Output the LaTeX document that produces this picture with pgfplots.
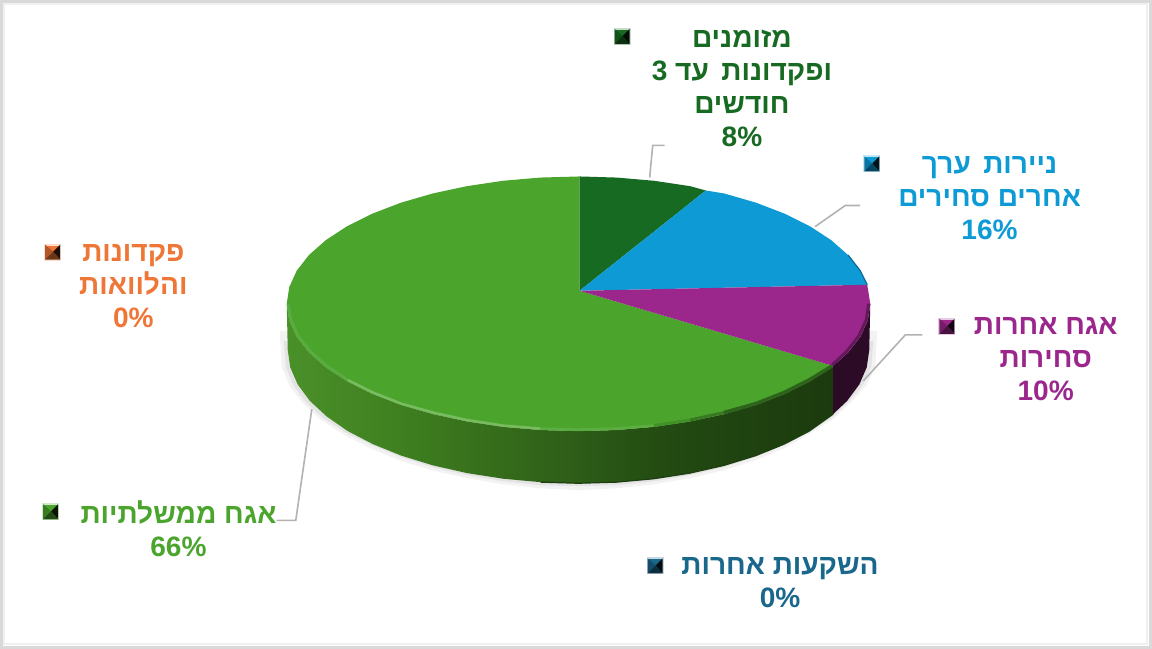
\documentclass[border=0pt]{standalone}
\usepackage{fontspec}
\usepackage{pgfplots}
\pgfplotsset{compat=1.18}
\setmainfont{Liberation Sans}
\newfontfamily\hebfont[Script=Hebrew]{Liberation Sans}
\TeXXeTstate=1
\definecolor{cCash}{HTML}{176A22}
\definecolor{cSec}{HTML}{0E9AD4}
\definecolor{cCorp}{HTML}{9C278C}
\definecolor{cGov}{HTML}{4BA52D}
\definecolor{cDep}{HTML}{EE7636}
\definecolor{cOth}{HTML}{1A678C}
\definecolor{sA}{HTML}{4A9029}
\definecolor{sB}{HTML}{3F8020}
\definecolor{sC}{HTML}{2F6018}
\definecolor{sD}{HTML}{224A12}
\definecolor{sE}{HTML}{1C3A0E}
\pgfdeclarehorizontalshading{greenside}{100bp}{color(0bp)=(sA); color(25bp)=(sA); color(35bp)=(sB); color(50bp)=(sC); color(60bp)=(sD); color(75bp)=(sE); color(100bp)=(sE)}
\newcommand{\he}[1]{{\hebfont\beginR #1\endR}}
% legend key: x0 xm x1 y0 ym y1 colour
\newcommand{\key}[7]{%
  \addplot[draw=#7!25, line width=2pt, fill=#7] coordinates {(#1,#4) (#3,#4) (#3,#6) (#1,#6)} -- cycle;
  \addplot[fill=#7!75!black, draw=none] coordinates {(#1,#4) (#2,#5) (#1,#6)} -- cycle;
  \addplot[fill=#7!12!black, draw=none] coordinates {(#3,#4) (#2,#5) (#3,#6)} -- cycle;
  \addplot[fill=#7!45!black, draw=none] coordinates {(#1,#6) (#2,#5) (#3,#6)} -- cycle;
}
\tikzset{lab/.style={font=\bfseries\fontsize{28}{33}\selectfont, align=center, inner sep=0pt}}
\begin{document}
\begin{tikzpicture}
\begin{axis}[
    scale only axis, width=1152pt, height=648pt,
    xmin=2, xmax=1154, ymin=2, ymax=650, y dir=reverse,
    hide axis, clip=false,
]
% picture frame
\addplot[draw=black!6, line width=2pt] coordinates {(4,3.5) (1144,3.5) (1144,642) (4,642)} -- cycle;
\addplot[draw=black!15, line width=3pt] coordinates {(1.5,1.5) (1147.5,1.5) (1147.5,645.5) (1.5,645.5)} -- cycle;
\begin{scope}[xshift=-1pt]
% soft shadow under the pie
\addplot[fill=black!5, draw=none] coordinates {
 (281,330) (283,366) (291,385) (304,402) (321,418) (344,433) (371,447) (400,459) (433,469) (468,477) (504,483)
 (541,487) (579,489) (617,487) (654,483) (690,477) (724,469) (756,459) (784,447) (809,433) (833,418) (850,402) (866,385) (875,366) (877,330)};
\addplot[fill=black!11, draw=none] coordinates {
 (285,340) (287,366) (295,385) (307,401) (323,416) (346,431) (373,444) (402,456) (434,466) (468,474) (504,480)
 (541,484) (579,485) (617,484) (654,480) (690,474) (724,466) (755,456) (784,444) (809,431) (832,416) (848,401) (862,385) (871,366) (873,340)};
% leader lines
\addplot[draw=black!30, line width=1.6pt] coordinates {(650,177) (653,145) (665,145)};
\addplot[draw=black!30, line width=1.6pt] coordinates {(815,226) (845,205) (860,205)};
\addplot[draw=black!30, line width=1.6pt] coordinates {(863,380) (905,334) (922,334)};
\addplot[draw=black!30, line width=1.6pt] coordinates {(313,408) (297,519) (278,519)};
% side of the pie
\addplot[draw=none, shade, shading=greenside] coordinates {
 (833,365) (809.9,380.3) (784.8,392.8) (756.2,403.8) (724.5,413) (690.4,420.3) (654.3,425.7) (617,428.9) (579,430)
 (541,428.9) (503.7,425.7) (467.6,420.3) (433.5,413) (401.8,403.8) (373.2,392.8) (348.1,380.3) (327,366.5) (310.1,351.6)
 (297.9,335.9) (290.5,319.6) (288,303)
 (289,349) (291.5,366.4) (298.9,383.4) (311.1,399.9) (328,415.5) (348.9,430) (374,443) (402.4,454.5) (434,464.2)
 (468,471.9) (504,477.5) (541.2,480.9) (579,482) (616.8,480.9) (654,477.5) (690,471.9) (724,464.2) (755.6,454.5)
 (784,443) (809.1,430) (833,413)} -- cycle;
\addplot[fill=black!72!cCorp, draw=none] coordinates {
 (870,303) (867.5,319.6) (860.1,335.9) (847.9,351.6) (833,365) (833,413) (846.9,399.9) (859.1,383.4) (866.5,366.4) (869,349)} -- cycle;
\addplot[draw=sD!85!black, line width=1.2pt] coordinates {
 (541.2,480.9) (579,482) (616.8,480.9) (654,477.5) (690,471.9) (724,464.2) (755.6,454.5) (784,443) (809.1,430) (833,413)};
% top face
\addplot[fill=cGov, draw=none] coordinates {
 (580,290) (833,365) (809.9,380.3) (784.8,392.8) (756.2,403.8) (724.5,413) (690.4,420.3) (654.3,425.7) (617,428.9) (579,430)
 (541,428.9) (503.7,425.7) (467.6,420.3) (433.5,413) (401.8,403.8) (373.2,392.8) (348.1,380.3) (327,366.5) (310.1,351.6)
 (297.9,335.9) (290.5,319.6) (288,303) (290.5,286.4) (297.9,270.1) (310.1,254.4) (327,239.5) (348.1,225.7) (373.2,213.2)
 (401.8,202.2) (433.5,193) (467.6,185.7) (503.7,180.3) (541,177.1) (580,176)} -- cycle;
\addplot[fill=cCash, draw=none] coordinates {
 (580,290) (580,176) (617,177.1) (654.3,180.3) (690.4,185.7) (706,190)} -- cycle;
\addplot[fill=cSec, draw=none] coordinates {
 (580,290) (706,190) (724.5,193) (756.2,202.2) (784.8,213.2) (809.9,225.7) (831,239.5) (847.9,254.4) (860.1,270.1) (867,284)} -- cycle;
\addplot[fill=cCorp, draw=none] coordinates {
 (580,290) (867,284) (870,303) (867.5,319.6) (860.1,335.9) (847.9,351.6) (833,365)} -- cycle;
% bevel along the rim
\addplot[draw=black!35!cCorp, line width=3pt] coordinates {(868.5,303) (866,319) (858.6,335) (846.4,350.6) (832,364)};
\addplot[draw=cSec!70!black, line width=1.2pt] coordinates {(847.9,254.4) (860.1,270.1) (867,284)};
\addplot[draw=black!12!cGov, line width=3pt] coordinates {(654,424.5) (690,419)};
\addplot[draw=black!26!cGov, line width=3pt] coordinates {(690,419) (724,411.5)};
\addplot[draw=black!40!cGov, line width=3.5pt] coordinates {
 (724,411.5) (756,402.5) (784,391.5) (809,379) (832,365)};
\addplot[draw=cGov!92!white, line width=3pt] coordinates {
 (289.5,303) (292,319) (299,335) (311.5,350.5)  (328,365) (349,379)};
\addplot[draw=cGov!75!white, line width=2.5pt] coordinates {
 (349,379) (374,391.5) (402,402.5) (434,411.5) (468,419) (504,424.5) (541,427.5)};
\addplot[draw=cGov!90!white, line width=2.5pt] coordinates {(541,427.5) (579,428.5) (617,427.5) (654,424.5)};
\end{scope}
% legend keys
\key{613}{621}{628}{29}{36}{44}{cCash}
\key{862}{870}{877}{156}{163}{171}{cSec}
\key{937}{945}{952}{318}{325}{333}{cCorp}
\key{45}{53}{60}{244}{251}{259}{cDep}
\key{43}{51}{58}{503}{510}{518}{cGov}
\key{646}{654}{661}{557}{564}{572}{cOth}
% labels
\node[lab, text=cCash] at (axis cs:740,88) {\he{מזומנים}\\\he{ופקדונות \,עד 3}\\\he{חודשים}\\8\%};
\node[lab, text=cSec] at (axis cs:987,198) {\he{ניירות \,ערך}\\\he{אחרים סחירים}\\16\%};
\node[lab, text=cCorp] at (axis cs:1043,358) {\he{אגח אחרות}\\\he{סחירות}\\10\%};
\node[lab, text=cDep] at (axis cs:133,285) {\he{פקדונות}\\\he{והלוואות}\\0\%};
\node[lab, text=cGov] at (axis cs:178,527) {\he{אגח ממשלתיות}\\66\%};
\node[lab, text=cOth] at (axis cs:778,581) {\he{השקעות אחרות}\\0\%};
\end{axis}
\end{tikzpicture}
\end{document}
